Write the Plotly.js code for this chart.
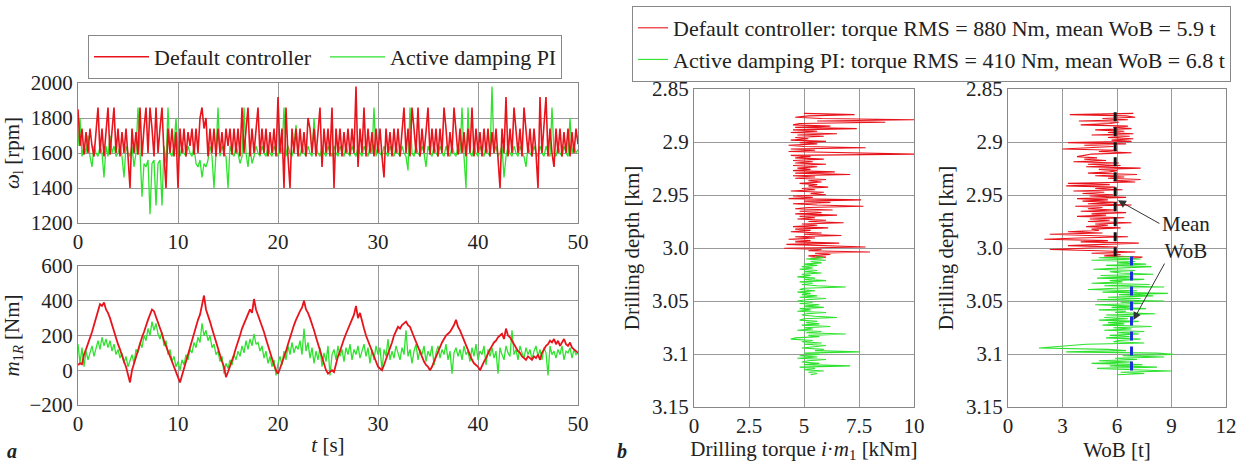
<!DOCTYPE html>
<html>
<head>
<meta charset="utf-8">
<script src="https://cdn.plot.ly/plotly-3.0.1.min.js"></script>
<style>html,body{margin:0;padding:0;background:#fff;}#chart{width:1248px;height:463px;}</style>
</head>
<body>
<div id="chart"></div>
<script>
// ---------- Panel a: time series (sampled every 0.2 s from 0 to 50 s) ----------
const timeStart = 0, timeStep = 0.2;

const omegaDefault = [
1850,1640,1740,1590,1720,1600,1740,1640,1580,1740,
1860,1600,1740,1580,1700,1860,1590,1740,1860,1600,
1740,1580,1720,1600,1740,1580,1400,1740,1600,1720,
1590,1860,1580,1740,1860,1600,1860,1740,1580,1860,
1600,1740,1860,1590,1400,1740,1600,1740,1580,1720,
1400,1740,1600,1740,1580,1720,1640,1740,1590,1740,
1600,1800,1860,1740,1800,1580,1740,1600,1740,1580,
1740,1600,1720,1580,1740,1640,1740,1590,1740,1600,
1740,1580,1860,1600,1740,1860,1580,1740,1600,1720,
1860,1590,1740,1600,1740,1580,1720,1600,1740,1580,
1920,1600,1740,1400,1860,1580,1400,1740,1600,1740,
1580,1740,1600,1720,1580,1800,1740,1600,1740,1580,
1740,1860,1520,1740,1600,1740,1580,1860,1400,1740,
1600,1740,1580,1720,1600,1740,1590,1740,1600,1980,
1520,1740,1600,1860,1580,1740,1600,1720,1580,1740,
1600,1740,1580,1460,1740,1600,1720,1580,1740,1600,
1740,1580,1720,1860,1600,1740,1580,1860,1740,1600,
1860,1580,1740,1600,1720,1860,1590,1740,1600,1740,
1580,1740,1600,1860,1740,1580,1720,1600,1860,1740,
1590,1740,1600,1720,1580,1740,1600,1860,1580,1740,
1600,1720,1580,1740,1600,1740,1580,1720,1600,1740,
1580,1400,1740,1600,1920,1580,1740,1600,1860,1740,
1600,1740,1580,1860,1720,1600,1740,1580,1740,1600,
1400,1920,1600,1740,1920,1580,1740,1600,1520,1740,
1600,1740,1580,1720,1600,1740,1580,1720,1600,1740,1650];

const omegaDamping = [
1640,1800,1580,1640,1600,1700,1580,1520,1640,1600,
1580,1640,1600,1460,1640,1580,1700,1600,1640,1580,
1600,1640,1580,1460,1640,1600,1580,1640,1520,1600,
1860,1560,1350,1540,1520,1560,1250,1540,1560,1300,
1540,1560,1300,1640,1540,1860,1600,1580,1640,1800,
1600,1580,1640,1600,1580,1640,1600,1580,1640,1540,
1520,1560,1460,1540,1520,1560,1640,1580,1400,1600,
1860,1580,1640,1600,1580,1400,1640,1600,1580,1640,
1600,1540,1580,1860,1600,1520,1640,1540,1580,1640,
1600,1580,1640,1600,1580,1640,1600,1580,1640,1600,
1580,1640,1600,1860,1580,1640,1600,1580,1640,1760,
1600,1580,1640,1600,1580,1640,1600,1580,1800,1640,
1600,1580,1640,1600,1580,1640,1600,1580,1640,1600,
1580,1640,1600,1580,1640,1600,1580,1640,1600,1580,
1640,1600,1580,1640,1600,1580,1640,1600,1860,1580,
1640,1600,1580,1640,1600,1580,1640,1600,1580,1640,
1600,1580,1640,1600,1580,1500,1860,1600,1580,1640,
1600,1580,1640,1600,1520,1640,1600,1580,1640,1600,
1580,1640,1600,1580,1640,1600,1580,1640,1600,1580,
1640,1600,1860,1580,1400,1860,1600,1580,1640,1600,
1580,1640,1600,1580,1640,1600,1580,1980,1600,1640,
1580,1600,1640,1460,1580,1640,1600,1580,1640,1600,
1580,1640,1600,1580,1520,1640,1600,1580,1640,1600,
1580,1640,1600,1580,1640,1600,1580,1860,1600,1580,
1640,1600,1580,1640,1600,1580,1800,1600,1640,1600,1620];

const torqueDefault = [
30,40,35,90,120,150,190,220,260,300,
340,380,370,390,350,330,300,260,220,190,
150,120,80,50,20,-20,-70,0,40,80,
120,150,190,220,260,290,320,350,340,310,
280,240,210,170,140,100,70,40,10,-20,
-40,-70,-30,10,60,90,130,170,210,250,
290,320,370,430,350,320,280,240,200,160,
120,90,50,20,-40,-10,20,60,90,130,
160,200,240,270,300,320,350,330,410,350,
320,280,260,220,180,140,100,60,30,0,
-20,10,40,80,110,150,190,220,260,290,
320,340,360,400,350,330,300,270,230,190,
150,110,70,40,0,-20,-10,0,-10,40,
80,110,150,180,210,240,270,300,320,370,
300,330,280,240,200,170,130,100,70,40,
20,10,0,30,60,90,130,160,200,230,
250,240,260,270,280,260,250,220,190,160,
130,100,80,50,30,20,0,20,50,80,
110,130,160,180,200,210,220,240,260,290,
250,230,200,170,140,110,80,60,40,30,
20,0,30,50,70,100,120,140,160,170,
190,200,210,180,240,200,190,170,150,130,
110,100,80,70,60,80,70,60,80,70,
90,60,100,120,140,150,170,160,180,150,
170,140,160,180,150,140,160,130,120,110,100];

const torqueDamping = [
150,40,130,20,110,60,100,140,80,130,
170,120,190,140,180,130,170,110,150,90,
120,70,100,40,80,20,60,90,40,120,
100,160,130,200,170,240,200,280,230,270,
210,180,220,140,170,90,120,50,80,20,
50,0,60,30,90,60,120,100,160,130,
190,160,270,200,230,170,200,130,150,90,
110,50,80,-20,40,10,60,30,90,60,
110,80,140,100,170,120,180,140,210,150,
160,110,140,70,110,40,80,20,60,-30,
40,80,30,110,60,140,90,160,100,140,
120,170,90,240,110,160,70,130,40,110,
60,130,20,100,50,140,-30,90,120,60,
140,80,120,50,130,90,150,60,120,90,
140,70,110,150,80,130,40,120,60,140,
90,130,0,120,80,180,60,110,70,140,
100,60,130,90,230,80,120,40,110,150,
60,120,90,140,50,110,80,140,30,100,
140,70,120,90,150,60,110,-20,100,130,
80,120,60,140,90,110,50,130,80,150,
60,110,90,140,30,120,80,130,70,110,
-20,130,90,60,140,100,80,230,90,120,
60,140,100,70,130,90,120,60,110,140,
80,120,60,130,100,-30,140,90,110,70,
120,90,140,60,110,100,130,70,120,90,100];

// ---------- Panel b: drilling logs (sampled every 0.0012 km of depth) ----------
const depthStep = 0.0012;
const depthStartDefault = 2.873;
const depthStartDamping = 3.008;

const drillTorqueDefault = [
5.0,7.3,5.2,4.6,5.8,10.0,5.6,8.7,4.8,4.5,
6.2,4.6,7.4,4.5,5.6,4.4,6.5,4.7,5.9,4.6,
5.2,4.4,6.0,4.8,5.6,4.3,5.0,7.8,4.4,5.5,
4.3,7.2,10.0,4.4,5.3,4.6,5.9,4.5,5.4,4.6,
6.0,4.5,5.6,4.7,5.3,4.5,6.4,4.6,7.1,4.5,
5.5,4.6,6.0,5.2,5.8,4.8,5.6,5.2,6.1,4.9,
5.5,4.4,5.9,5.3,6.0,4.5,5.4,4.3,7.6,5.0,
6.2,4.5,5.6,7.7,5.2,4.6,6.3,4.8,5.8,4.6,
6.5,4.8,5.5,4.7,6.0,5.2,6.8,4.9,5.6,4.5,
6.1,4.6,5.3,4.4,5.8,5.0,6.7,4.6,5.5,4.3,
5.3,4.6,6.6,4.2,5.6,7.8,4.1,5.8,5.2,8.0,
5.5,6.2,5.2,6.0,5.3];

const drillTorqueDamping = [
5.5,5.9,5.1,6.0,5.3,5.8,5.0,5.6,4.9,5.4,
4.8,5.6,5.0,5.8,4.9,5.3,4.7,5.5,5.0,6.0,
4.8,5.4,4.9,5.6,6.9,5.0,4.8,5.5,4.7,5.3,
4.9,5.6,4.8,6.0,5.1,4.7,5.4,4.8,5.7,5.0,
5.9,4.8,5.3,4.7,6.0,5.1,4.9,5.5,6.5,5.0,
4.8,5.6,5.1,5.7,4.9,6.2,5.0,5.4,4.7,5.8,
5.1,6.9,5.2,5.7,4.6,4.4,5.4,4.9,5.8,5.0,
6.0,5.3,4.9,5.9,5.5,7.5,5.0,5.7,4.8,5.6,
4.7,6.0,5.2,4.9,5.7,5.0,7.1,4.8,5.5,5.0,
5.9,5.2,5.6,5.3];

const wobDefault = [
6.9,3.4,6.5,7.0,5.2,6.6,3.9,6.1,5.6,4.0,
6.6,5.8,6.8,4.8,6.4,5.5,6.9,4.6,6.7,5.5,
6.9,5.7,6.8,3.3,6.5,4.2,5.8,4.6,3.0,6.0,
5.0,6.8,4.6,4.2,3.8,4.9,4.2,5.4,3.6,6.1,
4.4,6.2,4.3,7.3,5.0,6.0,5.6,4.4,7.1,4.8,
6.4,5.5,7.3,5.8,7.0,3.3,5.6,3.2,5.9,4.8,
6.3,3.6,5.3,4.1,5.8,4.5,6.5,3.8,5.5,4.1,
6.0,4.4,6.8,3.7,5.2,4.4,5.9,4.0,6.5,4.6,
5.4,3.8,6.4,4.5,5.6,4.4,6.8,4.8,5.5,4.3,
6.2,4.6,5.0,3.3,5.2,2.3,4.8,6.6,3.9,2.0,
5.5,4.0,7.2,4.6,3.3,6.0,4.1,2.3,5.0,7.0,
4.6,6.2,5.3,7.4,6.8];

const wobDamping = [
6.8,5.0,7.3,4.6,7.0,6.0,7.6,5.4,7.9,6.6,
4.7,7.0,5.6,6.2,8.0,5.1,6.9,4.9,7.5,5.6,
6.3,4.6,7.8,5.3,8.6,5.9,4.4,7.1,5.2,8.8,
6.1,8.0,5.5,7.3,4.9,8.6,6.2,7.4,4.8,6.9,
5.7,7.6,5.0,6.5,5.9,8.1,5.4,7.0,5.3,6.6,
5.0,7.2,5.5,6.4,5.2,7.9,5.8,6.8,5.3,7.5,
6.0,7.2,5.6,6.7,5.4,7.3,6.1,5.8,7.5,4.3,
3.4,2.8,1.7,5.5,6.5,3.2,8.2,9.1,6.3,8.6,
5.9,7.1,5.0,6.8,4.6,7.4,5.6,8.2,4.9,6.9,
9.0,6.2,7.5,6.0];

const meanWob = [5.9, 6.8];        // t
const meanWobDepthDefault = [2.872, 3.012];
const meanWobDepthDamping = [3.008, 3.121];

const legendNamesA = ['Default controller', 'Active damping PI'];
const legendNamesB = ['Default controller: torque RMS = 880 Nm, mean WoB = 5.9 t',
                      'Active damping PI: torque RMS = 410 Nm, mean WoB = 6.8 t'];

const timeTicks = [0, 10, 20, 30, 40, 50];
const omegaTicks = [1200, 1400, 1600, 1800, 2000];
const torqueTicks = [-200, 0, 200, 400, 600];
const depthTicks = [2.85, 2.9, 2.95, 3.0, 3.05, 3.1, 3.15];
const depthTickText = ['2.85', '2.9', '2.95', '3.0', '3.05', '3.1', '3.15'];
const drillTorqueTicks = [0, 2.5, 5, 7.5, 10];
const wobTicks = [0, 3, 6, 9, 12];

// ---------- helpers ----------
const grid = (n, start, step) => Array.from({length: n}, (_, i) => +(start + i * step).toFixed(5));
const RED = '#e8141c', GREEN = '#2ee22e';
const FONT = '"Liberation Serif", "Times New Roman", serif';

const tD = grid(omegaDefault.length, timeStart, timeStep);
const tG = grid(omegaDamping.length, timeStart, timeStep);
const tmD = grid(torqueDefault.length, timeStart, timeStep);
const tmG = grid(torqueDamping.length, timeStart, timeStep);
const dTD = grid(drillTorqueDefault.length, depthStartDefault, depthStep);
const dTG = grid(drillTorqueDamping.length, depthStartDamping, depthStep);
const dWD = grid(wobDefault.length, depthStartDefault, depthStep);
const dWG = grid(wobDamping.length, depthStartDamping, depthStep);

const traces = [
  {x: tG, y: omegaDamping, xaxis: 'x', yaxis: 'y', type: 'scatter', mode: 'lines',
   line: {color: GREEN, width: 1.3}, name: legendNamesA[1], legend: 'legend', legendrank: 2},
  {x: tD, y: omegaDefault, xaxis: 'x', yaxis: 'y', type: 'scatter', mode: 'lines',
   line: {color: RED, width: 1.6}, name: legendNamesA[0], legend: 'legend', legendrank: 1},
  {x: tmG, y: torqueDamping, xaxis: 'x2', yaxis: 'y2', type: 'scatter', mode: 'lines',
   line: {color: GREEN, width: 1.3}, showlegend: false},
  {x: tmD, y: torqueDefault, xaxis: 'x2', yaxis: 'y2', type: 'scatter', mode: 'lines',
   line: {color: RED, width: 1.8}, showlegend: false},
  {x: drillTorqueDefault, y: dTD, xaxis: 'x3', yaxis: 'y3', type: 'scatter', mode: 'lines',
   line: {color: RED, width: 1.1}, name: legendNamesB[0], legend: 'legend2', legendrank: 1},
  {x: drillTorqueDamping, y: dTG, xaxis: 'x3', yaxis: 'y3', type: 'scatter', mode: 'lines',
   line: {color: GREEN, width: 1.1}, name: legendNamesB[1], legend: 'legend2', legendrank: 2},
  {x: wobDefault, y: dWD, xaxis: 'x4', yaxis: 'y4', type: 'scatter', mode: 'lines',
   line: {color: RED, width: 1.1}, showlegend: false},
  {x: wobDamping, y: dWG, xaxis: 'x4', yaxis: 'y4', type: 'scatter', mode: 'lines',
   line: {color: GREEN, width: 1.1}, showlegend: false},
  {x: [meanWob[0], meanWob[0]], y: meanWobDepthDefault, xaxis: 'x4', yaxis: 'y4', type: 'scatter', mode: 'lines',
   line: {color: '#111', width: 3, dash: '9px,6px'}, showlegend: false},
  {x: [meanWob[1], meanWob[1]], y: meanWobDepthDamping, xaxis: 'x4', yaxis: 'y4', type: 'scatter', mode: 'lines',
   line: {color: '#1a2fd8', width: 3, dash: '9px,6px'}, showlegend: false}
];

const W = 1248, H = 463;
const px = v => v / W, py = v => 1 - v / H;

const tickFont = () => ({family: FONT, size: 21, color: '#222'});
const titleFont = () => ({family: FONT, size: 21, color: '#222'});
const axBase = () => ({
  showline: true, mirror: true, linecolor: '#888', linewidth: 1,
  showgrid: true, gridcolor: '#999', gridwidth: 1, zeroline: false,
  ticks: '', tickfont: tickFont(),
  fixedrange: true, automargin: false
});

const layout = {
  width: W, height: H, autosize: false,
  margin: {l: 0, r: 0, t: 0, b: 0},
  paper_bgcolor: '#fff', plot_bgcolor: '#fff',
  font: {family: FONT, size: 21, color: '#222'},
  showlegend: true,
  xaxis: Object.assign(axBase(), {domain: [px(78), px(578)], anchor: 'y', range: [0, 50], tickvals: timeTicks}),
  yaxis: Object.assign(axBase(), {domain: [py(223), py(83)], anchor: 'x', range: [1200, 2000], tickvals: omegaTicks,
    title: {text: '<i>ω</i><sub>l</sub> [rpm]', font: titleFont(), standoff: 5}}),
  xaxis2: Object.assign(axBase(), {domain: [px(78), px(578)], anchor: 'y2', range: [0, 50], tickvals: timeTicks,
    title: {text: '<i>t</i> [s]', font: titleFont(), standoff: 2}}),
  yaxis2: Object.assign(axBase(), {domain: [py(405), py(266)], anchor: 'x2', range: [-200, 600], tickvals: torqueTicks,
    title: {text: '<i>m</i><sub>1<i>R</i></sub> [Nm]', font: titleFont(), standoff: 5}}),
  xaxis3: Object.assign(axBase(), {domain: [px(694), px(914)], anchor: 'y3', range: [0, 10], tickvals: drillTorqueTicks,
    title: {text: 'Drilling torque <i>i</i>·<i>m</i><sub>1</sub> [kNm]', font: titleFont(), standoff: 4}}),
  yaxis3: Object.assign(axBase(), {domain: [py(407), py(89)], anchor: 'x3', range: [3.15, 2.85],
    tickvals: depthTicks, ticktext: depthTickText,
    title: {text: 'Drilling depth [km]', font: titleFont(), standoff: 6}}),
  xaxis4: Object.assign(axBase(), {domain: [px(1008), px(1226)], anchor: 'y4', range: [0, 12], tickvals: wobTicks,
    title: {text: 'WoB [t]', font: titleFont(), standoff: 4}}),
  yaxis4: Object.assign(axBase(), {domain: [py(407), py(89)], anchor: 'x4', range: [3.15, 2.85],
    tickvals: depthTicks, ticktext: depthTickText,
    title: {text: 'Drilling depth [km]', font: titleFont(), standoff: 6}}),
  legend: {orientation: 'h', x: px(88), y: py(35), xanchor: 'left', yanchor: 'top',
    bgcolor: '#fff', bordercolor: '#888', borderwidth: 1, font: {family: FONT, size: 22, color: '#222'},
    traceorder: 'normal', entrywidth: 166, itemwidth: 55},
  legend2: {orientation: 'v', x: px(632), y: py(6), xanchor: 'left', yanchor: 'top',
    bgcolor: '#fff', bordercolor: '#888', borderwidth: 1, font: {family: FONT, size: 22, color: '#222'},
    traceorder: 'normal', itemwidth: 30, tracegroupgap: 0},
  annotations: [
    {xref: 'paper', yref: 'paper', x: px(1186), y: py(237), text: 'Mean<br>WoB', showarrow: false,
     font: {family: FONT, size: 21, color: '#222'}, xanchor: 'center', yanchor: 'middle'},
    {xref: 'x4', yref: 'y4', x: 6.05, y: 2.955, ax: 43, ay: 24, text: '', showarrow: true,
     arrowhead: 2, arrowsize: 1.6, arrowwidth: 1, arrowcolor: '#333'},
    {xref: 'x4', yref: 'y4', x: 6.9, y: 3.068, ax: 32, ay: -58, text: '', showarrow: true,
     arrowhead: 2, arrowsize: 1.6, arrowwidth: 1, arrowcolor: '#333'},
    {xref: 'paper', yref: 'paper', x: px(12), y: py(451), text: '<b><i>a</i></b>', showarrow: false,
     font: {family: FONT, size: 20, color: '#222'}, xanchor: 'center', yanchor: 'middle'},
    {xref: 'paper', yref: 'paper', x: px(622), y: py(451), text: '<b><i>b</i></b>', showarrow: false,
     font: {family: FONT, size: 20, color: '#222'}, xanchor: 'center', yanchor: 'middle'}
  ]
};

Plotly.newPlot('chart', traces, layout, {staticPlot: true, displayModeBar: false});
</script>
</body>
</html>
